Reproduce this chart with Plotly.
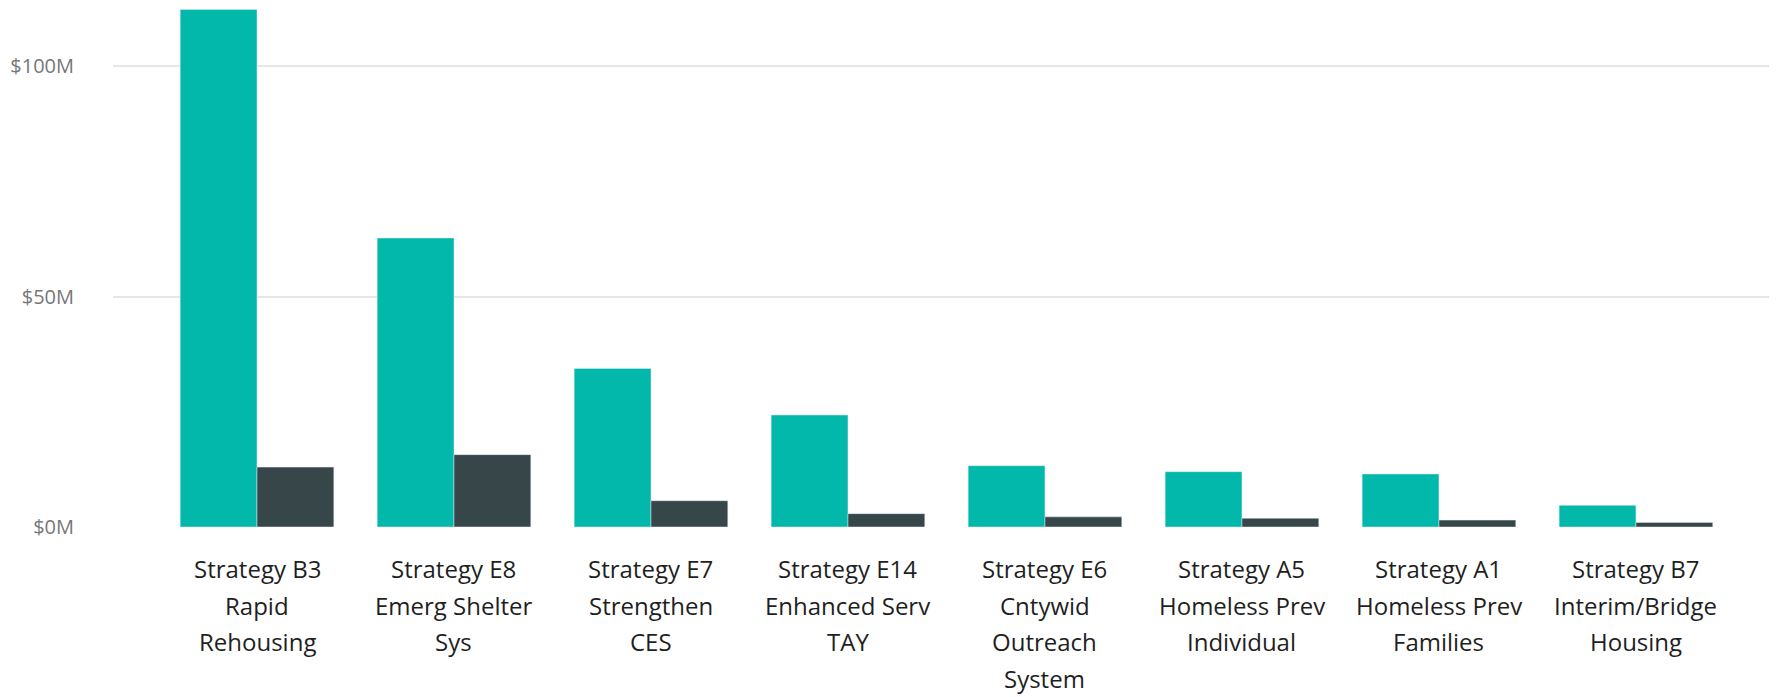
import plotly.graph_objects as go

categories = [
    "Strategy B3<br>Rapid<br>Rehousing",
    "Strategy E8<br>Emerg Shelter<br>Sys",
    "Strategy E7<br>Strengthen<br>CES",
    "Strategy E14<br>Enhanced Serv<br>TAY",
    "Strategy E6<br>Cntywid<br>Outreach<br>System",
    "Strategy A5<br>Homeless Prev<br>Individual",
    "Strategy A1<br>Homeless Prev<br>Families",
    "Strategy B7<br>Interim/Bridge<br>Housing",
]
budget = [112.3e6, 62.7e6, 34.4e6, 24.3e6, 13.3e6, 12.0e6, 11.5e6, 4.7e6]
spent = [13.0e6, 15.7e6, 5.7e6, 2.9e6, 2.2e6, 1.9e6, 1.5e6, 1.0e6]
ytick_vals = [0, 50e6, 100e6]
ytick_text = ["$0M", "$50M", "$100M"]

xs = list(range(len(categories)))

fig = go.Figure()
fig.add_bar(x=xs, y=budget, marker_color="#01B8AA", name="Budget")
fig.add_bar(x=xs, y=spent, marker_color="#374649", name="Spent")

# category labels, one annotation per line for Power BI-like line spacing
for i, label in enumerate(categories):
    for k, line in enumerate(label.split("<br>")):
        fig.add_annotation(
            x=i, y=0, xref="x", yref="y", text=line, showarrow=False,
            xanchor="center", yanchor="top", yshift=-23 - k * 36.6,
            font=dict(family="Open Sans", size=24, color="#1f1f1f"),
        )

fig.update_layout(
    width=1769, height=689,
    margin=dict(l=105, r=0, t=0, b=170),
    paper_bgcolor="white", plot_bgcolor="white",
    barmode="group", bargap=0.22, bargroupgap=0,
    showlegend=False,
    font=dict(family="Open Sans", color="#222"),
)
fig.update_xaxes(
    range=[-0.731, 7.716], automargin=False,
    tickvals=xs, showticklabels=False,
    showgrid=False, zeroline=False, showline=False, ticks="",
)
fig.update_yaxes(
    range=[0, 112.6e6], automargin=False,
    tickmode="array", tickvals=ytick_vals, ticktext=ytick_text,
    tickfont=dict(size=20, color="#777777"),
    showgrid=True, gridcolor="#E6E6E6", gridwidth=2,
    zeroline=False, showline=False, ticks="", ticklabelstandoff=38,
)

fig.write_html("out.html")
